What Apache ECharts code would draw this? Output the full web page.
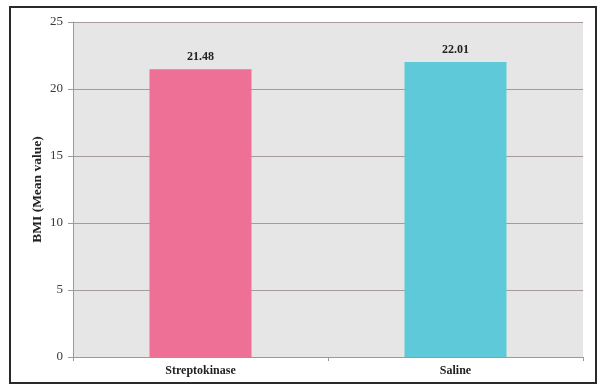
<!DOCTYPE html>
<html>
<head>
<meta charset="utf-8">
<script src="https://cdn.jsdelivr.net/npm/echarts@6/dist/echarts.min.js"></script>
<style>
  html, body { margin: 0; padding: 0; background: #ffffff; }
  #chart { width: 604px; height: 385px; }
</style>
</head>
<body>
<div id="chart"></div>
<script>
// Mean BMI by treatment group
const categories = ['Streptokinase', 'Saline'];
const bmiMeans = [21.48, 22.01];
const barColors = ['#ee7096', '#5ec9d9'];
const yTicks = [0, 5, 10, 15, 20, 25];

const serif = '"Liberation Serif", "DejaVu Serif", serif';

const chart = echarts.init(document.getElementById('chart'), null, { renderer: 'canvas' });

chart.setOption({
  animation: false,
  backgroundColor: '#ffffff',
  graphic: [{
    type: 'rect',
    shape: { x: 10, y: 7, width: 586, height: 376 },
    style: { fill: 'none', stroke: '#2a2a2a', lineWidth: 2 },
    z: 100
  }],
  grid: {
    left: 73, right: 21, top: 22, bottom: 28,
    show: true, backgroundColor: '#e6e6e6', borderWidth: 0
  },
  xAxis: {
    type: 'category',
    data: categories,
    axisLine: { lineStyle: { color: '#9a9a9a', width: 1 } },
    axisTick: { show: true, alignWithLabel: false, length: 4, lineStyle: { color: '#9a9a9a' } },
    axisLabel: { color: '#222', fontFamily: serif, fontSize: 12, fontWeight: 'bold', margin: 8 }
  },
  yAxis: {
    type: 'value',
    min: yTicks[0], max: yTicks[yTicks.length - 1], interval: 5,
    name: 'BMI (Mean value)',
    nameLocation: 'middle',
    nameGap: 28,
    nameMoveOverlap: false,
    nameRotate: 90,
    nameTextStyle: { color: '#222', fontFamily: serif, fontSize: 13.5, fontWeight: 'bold' },
    axisLine: { show: true, lineStyle: { color: '#9a9a9a', width: 1 } },
    axisTick: { show: true, length: 5, lineStyle: { color: '#9a9a9a' } },
    axisLabel: { color: '#3a3a3a', fontFamily: serif, fontSize: 13, margin: 10 },
    splitLine: { show: true, lineStyle: { color: '#a89a9a', width: 1 } }
  },
  series: [{
    type: 'bar',
    barWidth: '40%',
    data: bmiMeans.map((v, i) => ({ value: v, itemStyle: { color: barColors[i] } })),
    label: {
      show: true, position: 'top', distance: 6,
      color: '#222', fontFamily: serif, fontSize: 12, fontWeight: 'bold',
      formatter: p => p.value.toFixed(2)
    }
  }]
});
</script>
</body>
</html>
